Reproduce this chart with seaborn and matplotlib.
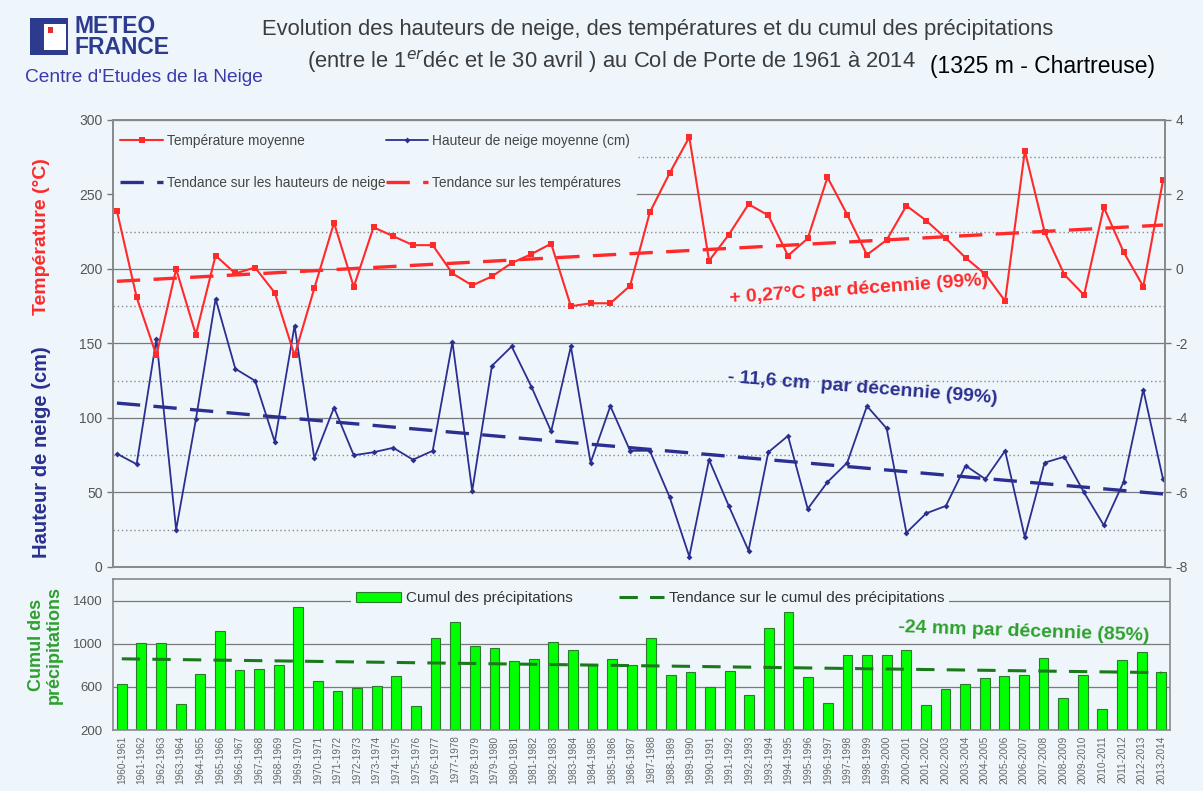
import numpy as np
import pandas as pd
import seaborn as sns
import matplotlib.pyplot as plt
from matplotlib.patches import Rectangle

# seasons 1960-1961 .. 2013-2014
seasons = [f"{y}-{y + 1}" for y in range(1960, 2014)]

# mean temperature (deg C, right axis)
temperature = [1.56, -0.76, -2.32, 0.0, -1.76, 0.36, -0.12, 0.04, -0.64, -2.32,
               -0.52, 1.24, -0.48, 1.12, 0.88, 0.64, 0.64, -0.12, -0.44, -0.2,
               0.16, 0.4, 0.68, -1.0, -0.92, -0.92, -0.45, 1.52, 2.57, 3.54,
               0.22, 0.92, 1.74, 1.44, 0.36, 0.82, 2.46, 1.46, 0.38, 0.78,
               1.7, 1.3, 0.82, 0.3, -0.14, -0.86, 3.17, 1.0, -0.15, -0.7,
               1.66, 0.46, -0.47, 2.38]

# mean snow depth (cm, left axis)
snow = [76, 69, 153, 25, 99, 180, 133, 125, 84, 162,
        73, 107, 75, 77, 80, 72, 78, 151, 51, 135,
        148, 121, 91, 148, 70, 108, 78, 78, 47, 7,
        72, 41, 11, 77, 88, 39, 57, 70, 108, 93,
        23, 36, 41, 68, 59, 78, 20, 70, 74, 50,
        28, 57, 119, 59]

# cumulated precipitation (mm)
precip = [630, 1009, 1009, 440, 720, 1122, 755, 768, 800, 1338,
          655, 560, 589, 612, 704, 427, 1056, 1200, 978, 956,
          844, 860, 1019, 941, 807, 860, 801, 1056, 714, 735,
          598, 745, 521, 1143, 1296, 689, 455, 894, 894, 894,
          941, 433, 583, 630, 682, 704, 714, 869, 496, 714,
          393, 847, 925, 735]

# linear trends (first season, last season)
trend_temp = [-0.33, 1.18]
trend_snow = [110, 49]
trend_precip = [860, 732]

bg = "#eef6fb"
red = "#ff2a2a"
navy = "#2b2f8f"
green_txt = "#2ea02e"
grey = "#555555"

sns.set_style("white")
plt.rcParams["font.family"] = ["Liberation Sans", "DejaVu Sans"]
plt.rcParams["axes.unicode_minus"] = False

idx = np.arange(len(seasons))
df = pd.DataFrame({"i": idx, "season": seasons, "temp": temperature,
                   "snow": snow, "precip": precip})
ends = [idx[0], idx[-1]]

fig = plt.figure(figsize=(12.03, 7.91), dpi=100, facecolor=bg)

# ---- main panel: snow depth + temperature
ax = fig.add_axes([0.0939, 0.2832, 0.8745, 0.5651], facecolor=bg)
ax2 = ax.twinx()

ax.set_ylim(0, 300)
ax.set_yticks(range(0, 301, 50))
ax.set_yticks(range(25, 300, 50), minor=True)
ax.grid(which="major", axis="y", color="#7a7a7a", lw=0.9)
ax.grid(which="minor", axis="y", color="#8a8a8a", lw=1.0, linestyle=(0, (1, 2)))
ax2.set_ylim(-8, 4)
ax2.set_yticks(range(-8, 5, 2))
ax2.grid(False)

sns.lineplot(data=df, x="i", y="snow", ax=ax, color=navy, lw=1.3, marker="D",
             markersize=3, markeredgewidth=0, label="Hauteur de neige moyenne (cm)")
sns.lineplot(x=ends, y=trend_snow, ax=ax, color=navy, lw=2.4,
             linestyle=(0, (7, 4)), label="Tendance sur les hauteurs de neige")
sns.lineplot(data=df, x="i", y="temp", ax=ax2, color=red, lw=1.5, marker="s",
             markersize=4.5, markeredgewidth=0, label="Température moyenne")
sns.lineplot(x=ends, y=trend_temp, ax=ax2, color=red, lw=2.4,
             linestyle=(0, (7, 4)), label="Tendance sur les températures")

for a in (ax, ax2):
    a.set_xlim(-0.2, 53.1)
    a.set_xticks([])
    a.set_xlabel("")
    a.set_ylabel("")
    a.tick_params(axis="y", which="major", labelsize=10, labelcolor=grey,
                  color="#777777", length=4, width=1)
    a.tick_params(axis="y", which="minor", length=0)
    for s in a.spines.values():
        s.set_color("#888888")
        s.set_linewidth(1.2)

h1, l1 = ax.get_legend_handles_labels()
h2, l2 = ax2.get_legend_handles_labels()
ax.get_legend().remove()
ax2.get_legend().remove()
hd = dict(zip(l1 + l2, h1 + h2))
order = ["Température moyenne", "Tendance sur les hauteurs de neige",
         "Hauteur de neige moyenne (cm)", "Tendance sur les températures"]
leg = ax2.legend([hd[k] for k in order], order, ncol=2, loc="upper left",
                 bbox_to_anchor=(-0.002, 0.99), frameon=True, facecolor=bg,
                 edgecolor="none", framealpha=1, fontsize=9.9, labelspacing=2.0,
                 handlelength=3.1, handletextpad=0.3, columnspacing=0.0,
                 borderpad=0.5, borderaxespad=0.2)
for t in leg.get_texts():
    t.set_color("#444444")

ax2.text(37.6, -0.55, "+ 0,27°C par décennie (99%)", color=red, fontsize=14,
         fontweight="bold", ha="center", va="center", rotation=4)
ax.text(37.8, 120, "- 11,6 cm  par décennie (99%)", color=navy, fontsize=14,
        fontweight="bold", ha="center", va="center", rotation=-4.5)

# ---- bottom panel: precipitation
axb = fig.add_axes([0.0939, 0.0771, 0.8787, 0.1909], facecolor=bg)
sns.barplot(data=df, x="i", y="precip", ax=axb, color="#00ff00", saturation=1,
            edgecolor="#2c7a2c", linewidth=0.8, width=0.5,
            label="Cumul des précipitations")
sns.lineplot(x=ends, y=trend_precip, ax=axb, color="#1a7a1a", lw=2.2,
             linestyle=(0, (6, 4)), label="Tendance sur le cumul des précipitations")
axb.set_ylim(200, 1600)
axb.set_yticks([200, 600, 1000, 1400])
axb.grid(which="major", axis="y", color="#7a7a7a", lw=0.9)
axb.set_axisbelow(True)
axb.set_xlim(-0.45, 53.45)
axb.set_xticks(idx)
axb.set_xticklabels(seasons, rotation=90, fontsize=7.2, color="#666666")
axb.set_xticks(idx[:-1] + 0.5, minor=True)
axb.tick_params(axis="x", which="major", length=0, pad=4)
axb.tick_params(axis="x", which="minor", length=3, color="#888888")
axb.tick_params(axis="y", labelsize=9.5, labelcolor=grey, color="#777777", length=4)
axb.set_xlabel("")
axb.set_ylabel("")
for s in axb.spines.values():
    s.set_color("#888888")
    s.set_linewidth(1.2)

hb, lb = axb.get_legend_handles_labels()
hbd = dict(zip(lb, hb))
border = ["Cumul des précipitations", "Tendance sur le cumul des précipitations"]
lg = axb.legend([hbd[k] for k in border], border, ncol=2, loc="upper left",
                bbox_to_anchor=(0.218, 1.0), frameon=True, facecolor=bg,
                edgecolor="none", framealpha=1, fontsize=11, handlelength=3.0,
                handletextpad=0.3, columnspacing=3.0, borderpad=0.3)
for t in lg.get_texts():
    t.set_color("#333333")

axb.text(46.0, 1110, "-24 mm par décennie (85%)", color=green_txt, fontsize=14,
         fontweight="bold", ha="center", va="center", rotation=-2)

# ---- axis titles
fig.text(42 / 1203, 1 - 237 / 791, "Température (°C)", color=red, fontsize=14,
         fontweight="bold", rotation=90, ha="center", va="center")
fig.text(42 / 1203, 1 - 452 / 791, "Hauteur de neige (cm)", color=navy, fontsize=14.5,
         fontweight="bold", rotation=90, ha="center", va="center")
fig.text(45 / 1203, 1 - 645 / 791, "Cumul des\nprécipitations", color=green_txt,
         fontsize=13, fontweight="bold", rotation=90, ha="center", va="center",
         linespacing=1.05)

# ---- header
fig.patches.append(Rectangle((30 / 1203, 1 - 55 / 791), 38 / 1203, 37 / 791,
                             transform=fig.transFigure, facecolor="#2d3b8e",
                             edgecolor="none"))
fig.patches.append(Rectangle((44 / 1203, 1 - 50 / 791), 22 / 1203, 26 / 791,
                             transform=fig.transFigure, facecolor="white",
                             edgecolor="none"))
fig.patches.append(Rectangle((48 / 1203, 1 - 33 / 791), 5 / 1203, 6 / 791,
                             transform=fig.transFigure, facecolor="#e03030",
                             edgecolor="none"))
fig.text(74 / 1203, 1 - 37 / 791, "METEO\nFRANCE", color="#2d3b8e", fontsize=16.5,
         fontweight="bold", ha="left", va="center", linespacing=0.9)
fig.text(25 / 1203, 1 - 78 / 791, "Centre d'Etudes de la Neige", color="#3a3aaa",
         fontsize=13.8, ha="left", va="center")
fig.text(262 / 1203, 1 - 30 / 791,
         "Evolution des hauteurs de neige, des températures et du cumul des précipitations",
         color="#3c3c3c", fontsize=15.8, ha="left", va="center")
fig.text(307 / 1203, 1 - 62 / 791,
         "(entre le 1$^{er}$déc et le 30 avril ) au Col de Porte de 1961 à 2014",
         color="#3c3c3c", fontsize=15.8, ha="left", va="center")
fig.text(930 / 1203, 1 - 66 / 791, "(1325 m - Chartreuse)", color="black",
         fontsize=16.5, ha="left", va="center")

fig.savefig("out.png", dpi=100, facecolor=bg)
